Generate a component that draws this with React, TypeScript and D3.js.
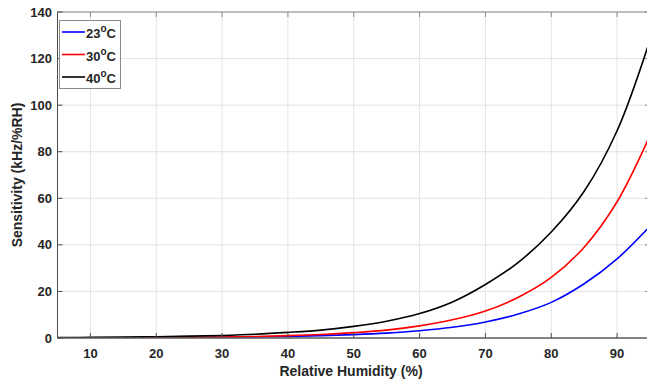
import React from "react";
import * as d3 from "d3";

const humidity = [5, 10, 15, 20, 25, 30, 35, 40, 45, 50, 55, 60, 65, 70, 75, 80, 85, 90, 95];
const sens23 = [0.05, 0.07, 0.1, 0.15, 0.22, 0.32, 0.48, 0.7, 1.0, 1.45, 2.1, 3.1, 4.6, 6.9, 10.3, 15.3, 23.3, 34, 48];
const sens30 = [0.05, 0.08, 0.12, 0.18, 0.28, 0.43, 0.65, 1.0, 1.5, 2.3, 3.4, 5.2, 7.8, 11.6, 17.5, 26, 39, 58.5, 87];
const sens40 = [0.18, 0.26, 0.38, 0.55, 0.8, 1.1, 1.6, 2.4, 3.4, 5.0, 7.2, 10.5, 15.5, 23, 32.5, 45.5, 63, 89, 128];
const seriesNames = ["23", "30", "40"];
const seriesColors = ["#0000ff", "#ff0000", "#000000"];
const xTicks = [10, 20, 30, 40, 50, 60, 70, 80, 90];
const yTicks = [0, 20, 40, 60, 80, 100, 120, 140];

const W = 647, H = 381;
const L = 57.5, R = 650, T = 12, B = 338;

export default function App() {
  const x = d3.scaleLinear().domain([5, 95]).range([L, R]);
  const y = d3.scaleLinear().domain([0, 140]).range([B, T]);
  const all = [sens23, sens30, sens40];
  const line = d3.line<[number, number]>().x(d => x(d[0])).y(d => y(d[1])).curve(d3.curveCatmullRom.alpha(0.5));
  const font = "'Liberation Sans', Arial, sans-serif";
  return (
    <svg width={W} height={H} style={{ position: "absolute", left: 0, top: 0, background: "#fff" }} fontFamily={font}>
      <defs>
        <clipPath id="pc"><rect x={L} y={T} width={R - L} height={B - T} /></clipPath>
      </defs>
      {xTicks.map(t => (
        <line key={"gx" + t} x1={x(t)} x2={x(t)} y1={T} y2={B} stroke="#e3e3e3" strokeWidth={1} />
      ))}
      {yTicks.map(t => (
        <line key={"gy" + t} x1={L} x2={R} y1={y(t)} y2={y(t)} stroke="#e3e3e3" strokeWidth={1} />
      ))}
      <g clipPath="url(#pc)">
        {all.map((s, i) => (
          <path key={i} d={line(humidity.map((h, j) => [h, s[j]] as [number, number])) || ""} fill="none" stroke={seriesColors[i]} strokeWidth={1.6} />
        ))}
      </g>
      <rect x={L} y={T} width={R - L} height={B - T} fill="none" stroke="#8a8a8a" strokeWidth={1} />
      <line x1={L} x2={L} y1={T} y2={B} stroke="#4d4d4d" strokeWidth={1} />
      <line x1={L} x2={R} y1={B} y2={B} stroke="#4d4d4d" strokeWidth={1} />
      {xTicks.map(t => (
        <g key={"tx" + t}>
          <line x1={x(t)} x2={x(t)} y1={B} y2={B - 5} stroke="#4d4d4d" />
          <line x1={x(t)} x2={x(t)} y1={T} y2={T + 5} stroke="#8a8a8a" />
          <text x={x(t)} y={358} textAnchor="middle" fontSize={13} fontWeight="bold" fill="#262626">{t}</text>
        </g>
      ))}
      {yTicks.map(t => (
        <g key={"ty" + t}>
          <line x1={L} x2={L + 5} y1={y(t)} y2={y(t)} stroke="#4d4d4d" />
          <line x1={R} x2={R - 5} y1={y(t)} y2={y(t)} stroke="#8a8a8a" />
          <text x={52} y={y(t) + 4.5} textAnchor="end" fontSize={13} fontWeight="bold" fill="#262626">{t}</text>
        </g>
      ))}
      <text x={351} y={376} textAnchor="middle" fontSize={14} fontWeight="bold" fill="#262626">Relative Humidity (%)</text>
      <text transform="translate(22,175) rotate(-90)" textAnchor="middle" fontSize={14} fontWeight="bold" fill="#262626">Sensitivity (kHz/%RH)</text>
      <rect x={59.5} y={20.5} width={61} height={68} fill="#fff" stroke="#8a8a8a" strokeWidth={1} />
      {seriesNames.map((n, i) => (
        <g key={"lg" + i}>
          <line x1={62} x2={85} y1={32 + i * 22.5} y2={32 + i * 22.5} stroke={seriesColors[i]} strokeWidth={1.6} />
          <text x={86} y={32 + i * 22.5 + 6} fontSize={13} fontWeight="bold" fill="#262626">
            {n}
            <tspan fontSize={10} dy={-6}>o</tspan>
            <tspan dy={6}>C</tspan>
          </text>
        </g>
      ))}
    </svg>
  );
}
